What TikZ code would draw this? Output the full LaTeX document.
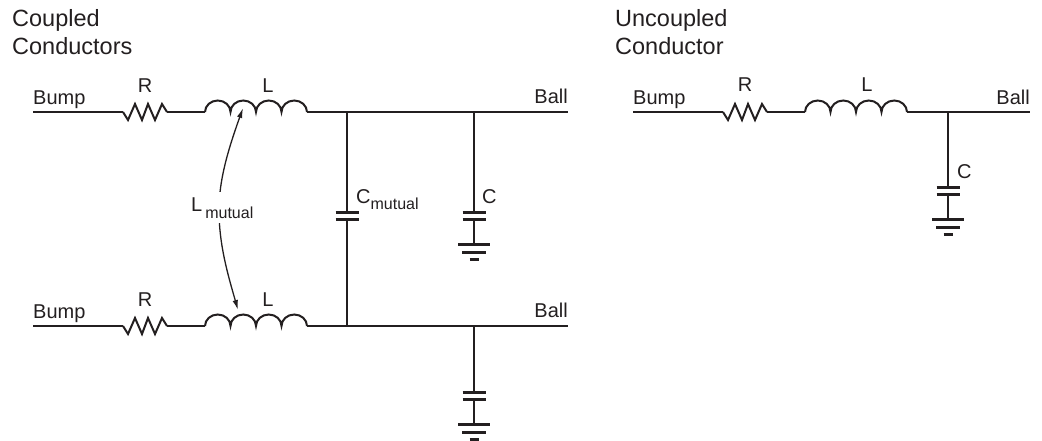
\documentclass[tikz,border=0pt]{standalone}
\usepackage{fontspec}
\setmainfont{Liberation Sans}
\usetikzlibrary{arrows.meta}
\definecolor{ink}{HTML}{231F20}
\tikzset{
  wire/.style={draw=ink, line width=1.4pt},
  comp/.style={draw=ink, line width=2pt, line join=miter},
  plate/.style={draw=ink, line width=3pt},
  lbl/.style={inner sep=0pt, text=ink, font=\fontsize{20}{20}\selectfont},
  ttl/.style={inner sep=0pt, text=ink, font=\fontsize{23.5}{23.5}\selectfont},
  resistor/.pic={\draw[comp] (0,0) -- (5,8) -- (12,-8) -- (19,8) -- (25,-8) -- (32,8) -- (39,-8) -- (44,0);},
  coil/.pic={\draw[comp] (0,0) arc[start angle=180, end angle=360, x radius=12.75, y radius=11.5]
     arc[start angle=180, end angle=360, x radius=12.75, y radius=11.5]
     arc[start angle=180, end angle=360, x radius=12.75, y radius=11.5]
     arc[start angle=180, end angle=360, x radius=12.75, y radius=11.5];},
  capplates/.pic={\draw[plate] (-11.5,0) -- (11.5,0); \draw[plate] (-11.5,7) -- (11.5,7);},
  gnd/.pic={\draw[plate] (-16,0) -- (16,0); \draw[plate] (-12,8) -- (12,8); \draw[plate] (-4.5,15) -- (4.5,15);}
}
\newcommand{\subtxt}[1]{{\fontsize{16}{16}\selectfont #1}}
\begin{document}
\begin{tikzpicture}[x=1pt,y=-1pt]
\useasboundingbox (0,0) rectangle (1042,440);

% titles
\node[ttl, anchor=base west] (tc1) at (12,26) {Coupled};
\node[ttl, anchor=base west] (tc2) at (12,54) {Conductors};
\node[ttl, anchor=base west] (tu1) at (615,26) {Uncoupled};
\node[ttl, anchor=base west] (tu2) at (615,54) {Conductor};

% ---- coupled, top line
\coordinate (t0) at (33,112);
\coordinate (tR1) at (123,112);
\coordinate (tR2) at (167,112);
\coordinate (tL1) at (205,112);
\coordinate (tL2) at (307,112);
\coordinate (tJ1) at (347,112);
\coordinate (tJ2) at (474,112);
\coordinate (tE) at (568,112);
\draw[wire] (t0) -- (tR1);
\pic at (tR1) {resistor};
\draw[wire] (tR2) -- (tL1);
\pic at (tL1) {coil};
\draw[wire] (tL2) -- (tJ1) -- (tJ2) -- (tE);

% ---- coupled, bottom line
\coordinate (b0) at (33,326);
\coordinate (bR1) at (123,326);
\coordinate (bR2) at (167,326);
\coordinate (bL1) at (205,326);
\coordinate (bL2) at (307,326);
\coordinate (bJ1) at (347,326);
\coordinate (bJ2) at (474,326);
\coordinate (bE) at (568,326);
\draw[wire] (b0) -- (bR1);
\pic at (bR1) {resistor};
\draw[wire] (bR2) -- (bL1);
\pic at (bL1) {coil};
\draw[wire] (bL2) -- (bJ1) -- (bJ2) -- (bE);

% C mutual
\coordinate (cm1) at (347,212);
\coordinate (cm2) at (347,219);
\draw[wire] (tJ1) -- (cm1);
\pic at (cm1) {capplates};
\draw[wire] (cm2) -- (bJ1);

% C top to ground
\coordinate (c1) at (474,212);
\coordinate (c2) at (474,219);
\coordinate (g1) at (474,244);
\draw[wire] (tJ2) -- (c1);
\pic at (c1) {capplates};
\draw[wire] (c2) -- (g1);
\pic at (g1) {gnd};

% C bottom to ground
\coordinate (c3) at (474,392);
\coordinate (c4) at (474,399);
\coordinate (g2) at (474,424);
\draw[wire] (bJ2) -- (c3);
\pic at (c3) {capplates};
\draw[wire] (c4) -- (g2);
\pic at (g2) {gnd};

% mutual inductance arrow
\coordinate (mA) at (243,108);
\coordinate (mM) at (219,210);
\coordinate (mB) at (238,310);
\draw[draw=ink, line width=1.3pt, {Latex[length=10pt,width=5.5pt]}-{Latex[length=10pt,width=5.5pt]}]
  (mA) .. controls (228,150) and (219,180) .. (mM)
       .. controls (219,245) and (228,275) .. (mB);
\node[lbl, anchor=base west, fill=white, inner ysep=5pt, inner xsep=1pt] (lm) at (190,211) {L\hspace{3pt}\raisebox{-7pt}{\subtxt{mutual}}};

% coupled labels
\node[lbl, anchor=base west] (bump1) at (33,104) {Bump};
\node[lbl, anchor=base] (r1) at (145,92) {R};
\node[lbl, anchor=base] (l1) at (268,92) {L};
\node[lbl, anchor=base east] (ball1) at (568,103) {Ball};
\node[lbl, anchor=base west] (bump2) at (33,318) {Bump};
\node[lbl, anchor=base] (r2) at (145,306) {R};
\node[lbl, anchor=base] (l2) at (268,306) {L};
\node[lbl, anchor=base east] (ball2) at (568,317) {Ball};
\node[lbl, anchor=base west] (cml) at (356,203) {C\raisebox{-6pt}{\subtxt{mutual}}};
\node[lbl, anchor=base west] (cl) at (482,203) {C};

% ---- uncoupled
\coordinate (u0) at (633,112);
\coordinate (uR1) at (723,112);
\coordinate (uR2) at (767,112);
\coordinate (uL1) at (805,112);
\coordinate (uL2) at (907,112);
\coordinate (uJ) at (948,112);
\coordinate (uE) at (1030,112);
\draw[wire] (u0) -- (uR1);
\pic at (uR1) {resistor};
\draw[wire] (uR2) -- (uL1);
\pic at (uL1) {coil};
\draw[wire] (uL2) -- (uJ) -- (uE);
\coordinate (uc1) at (948,187);
\coordinate (uc2) at (948,194);
\coordinate (ug) at (948,219);
\draw[wire] (uJ) -- (uc1);
\pic at (uc1) {capplates};
\draw[wire] (uc2) -- (ug);
\pic at (ug) {gnd};

\node[lbl, anchor=base west] (bump3) at (633,104) {Bump};
\node[lbl, anchor=base] (r3) at (745,91) {R};
\node[lbl, anchor=base] (l3) at (867,91) {L};
\node[lbl, anchor=base east] (ball3) at (1030,104) {Ball};
\node[lbl, anchor=base west] (cl3) at (957,178) {C};
\end{tikzpicture}
\end{document}
